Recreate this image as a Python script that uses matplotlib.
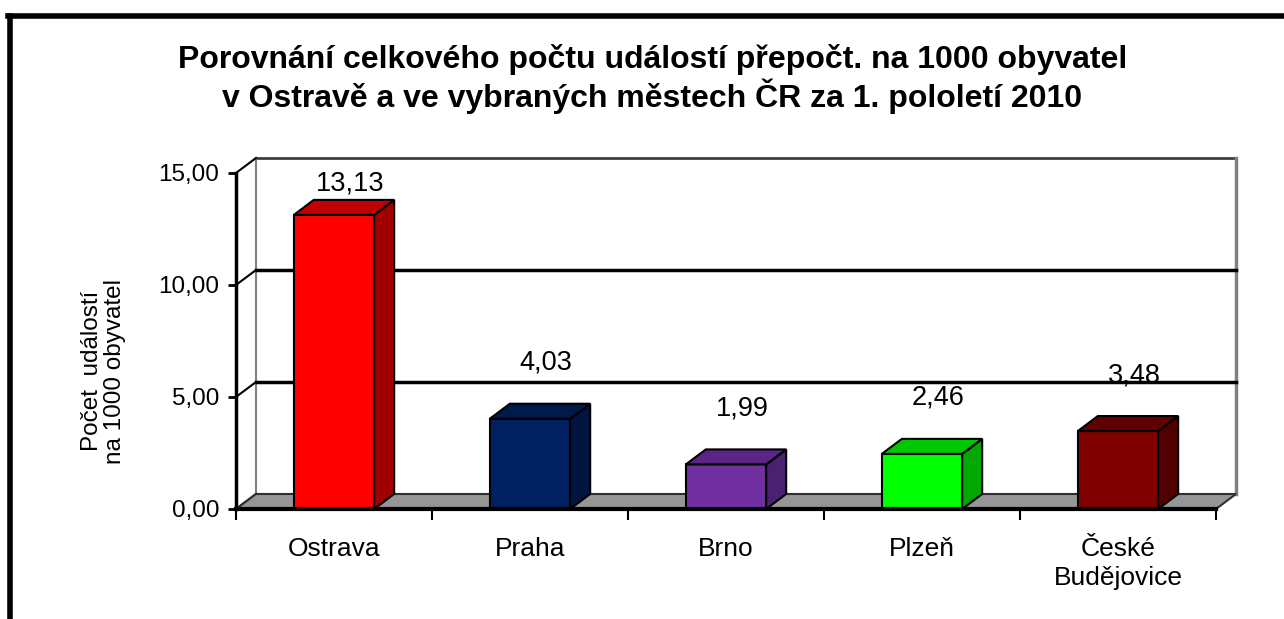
import matplotlib.pyplot as plt
from matplotlib.patches import Polygon
from matplotlib.lines import Line2D

plt.rcParams['font.family'] = ['Liberation Sans', 'DejaVu Sans']

cities = ['Ostrava', 'Praha', 'Brno', 'Plzeň', 'České\nBudějovice']
values = [13.13, 4.03, 1.99, 2.46, 3.48]
value_labels = ['13,13', '4,03', '1,99', '2,46', '3,48']
front_colors = ['#ff0000', '#002060', '#7030a0', '#00ff00', '#800000']
side_colors = ['#a00000', '#001640', '#4a2070', '#00a800', '#500000']
top_colors = ['#c00000', '#001a4c', '#5a2585', '#00c800', '#600000']
y_ticks = [0, 5, 10, 15]

# depth of the fake 3d in data units (about 20 px right, 15 px up)
DX = 0.102
DY = 0.67
BW = 0.41

fig = plt.figure(figsize=(12.84, 6.19), dpi=100)
ax = fig.add_axes([236 / 1284, 110 / 619, 980 / 1284, 336 / 619])
ax.set_xlim(-0.5, 4.5)
ax.set_ylim(0, 15)
ax.patch.set_visible(False)

x0, x1 = -0.5, 4.5
# back wall
ax.add_patch(Polygon([(x0 + DX, DY), (x1 + DX, DY), (x1 + DX, 15 + DY), (x0 + DX, 15 + DY)],
                     closed=True, facecolor='white', edgecolor='none', clip_on=False, zorder=0))
ax.plot([x0 + DX, x1 + DX], [15 + DY, 15 + DY], color='#404040', lw=2, clip_on=False, zorder=1)
ax.plot([x0 + DX, x0 + DX], [DY, 15 + DY], color='#808080', lw=1.5, clip_on=False, zorder=1)
ax.plot([x1 + DX, x1 + DX], [DY, 15 + DY], color='#808080', lw=2.5, clip_on=False, zorder=1)
for g in y_ticks:
    if 0 < g < 15:
        ax.plot([x0 + DX, x1 + DX], [g + DY, g + DY], color='black', lw=2.5, clip_on=False, zorder=1)
    ax.plot([x0, x0 + DX], [g, g + DY], color='black', lw=1.5, clip_on=False, zorder=1)

# floor
ax.add_patch(Polygon([(x0, 0), (x1, 0), (x1 + DX, DY), (x0 + DX, DY)], closed=True,
                     facecolor='#969696', edgecolor='#303030', lw=1.5, clip_on=False, zorder=2))

# bars
xs = list(range(len(cities)))
ax.bar(xs, values, width=BW, color=front_colors, edgecolor='black', linewidth=1.5, zorder=3)
for x, v, sc, tc, lab in zip(xs, values, side_colors, top_colors, value_labels):
    l, r = x - BW / 2, x + BW / 2
    ax.add_patch(Polygon([(r, 0), (r + DX, DY), (r + DX, v + DY), (r, v)], closed=True,
                         facecolor=sc, edgecolor='black', lw=1.5, zorder=3, clip_on=False))
    ax.add_patch(Polygon([(l, v), (r, v), (r + DX, v + DY), (l + DX, v + DY)], closed=True,
                         facecolor=tc, edgecolor='black', lw=1.5, zorder=3, clip_on=False))
    ax.text(x + DX * 0.8, min(v + 2.5, 14.55), lab, ha='center', va='center', fontsize=19.5)

# axes
for s in ['top', 'right']:
    ax.spines[s].set_visible(False)
ax.spines['left'].set_linewidth(2.5)
ax.spines['bottom'].set_linewidth(3)
ax.spines['left'].set_zorder(4)
ax.spines['bottom'].set_zorder(4)
ax.set_yticks(y_ticks)
ax.set_yticklabels([('%.2f' % t).replace('.', ',') for t in y_ticks])
ax.tick_params(axis='y', labelsize=17.5, length=6, width=2, pad=6)
ax.set_xticks(xs)
ax.set_xticklabels(cities, linespacing=1.3)
ax.tick_params(axis='x', which='major', length=0, labelsize=19, pad=20)
ax.set_xticks([i - 0.5 for i in range(len(cities) + 1)], minor=True)
ax.tick_params(axis='x', which='minor', length=8, width=1.5)
ax.set_ylabel('Počet  událostí\nna 1000 obyvatel', fontsize=17.5, linespacing=1.1)
ax.yaxis.set_label_coords(-0.112, 0.41)

fig.text(0.508, 0.872, 'Porovnání celkového počtu událostí přepočt. na 1000 obyvatel\n'
         'v Ostravě a ve vybraných městech ČR za 1. pololetí 2010',
         ha='center', va='center', fontsize=23, fontweight='bold', linespacing=1.12)

# outer frame (only left and top visible)
fig.add_artist(Line2D([10 / 1284, 10 / 1284], [0, 603 / 619], color='black', lw=4))
fig.add_artist(Line2D([8 / 1284, 1], [603 / 619, 603 / 619], color='black', lw=4))

fig.savefig('out.png', dpi=100)
